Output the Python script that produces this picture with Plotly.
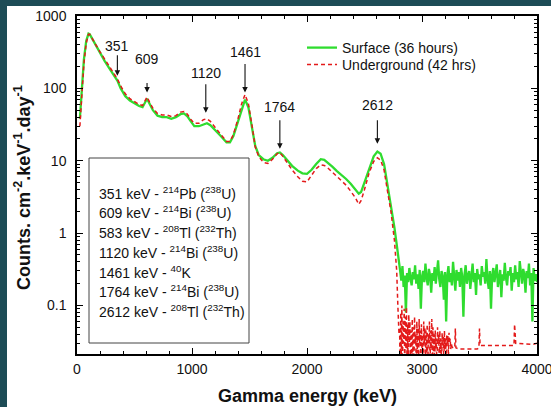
import math
import plotly.graph_objects as go

# ---------------- data ----------------
surface_energy = [25, 40, 60, 80, 100, 110, 130, 160, 200, 240, 280, 320, 351, 380, 420, 460, 500, 540, 570, 590,
                  609, 630, 660, 700, 740, 780, 820, 860, 900, 930, 960, 990, 1020, 1060, 1100, 1130, 1160, 1200,
                  1250, 1300, 1330, 1360, 1400, 1430, 1461, 1490, 1520, 1550, 1580, 1620, 1660, 1700, 1740, 1764,
                  1790, 1830, 1870, 1920, 1960, 2000, 2040, 2080, 2120, 2150, 2180, 2220, 2260, 2300, 2340, 2380,
                  2420, 2450, 2470, 2500, 2540, 2580, 2612, 2640, 2670, 2700, 2730, 2760, 2780, 2800,
                  2810, 2820, 2830, 2840, 2850, 2860, 2870, 2880, 2890, 2900,
                  2910, 2920, 2930, 2940, 2950, 2960, 2970, 2980, 2990, 3000,
                  3010, 3020, 3030, 3040, 3050, 3060, 3070, 3080, 3090, 3100,
                  3110, 3120, 3130, 3140, 3150, 3160, 3170, 3180, 3190, 3200,
                  3210, 3220, 3230, 3240, 3250, 3260, 3270, 3280, 3290, 3300,
                  3310, 3320, 3330, 3340, 3350, 3360, 3370, 3380, 3390, 3400,
                  3410, 3420, 3430, 3440, 3450, 3460, 3470, 3480, 3490, 3500,
                  3510, 3520, 3530, 3540, 3550, 3560, 3570, 3580, 3590, 3600,
                  3610, 3620, 3630, 3640, 3650, 3660, 3670, 3680, 3690, 3700,
                  3710, 3720, 3730, 3740, 3750, 3760, 3770, 3780, 3790, 3800,
                  3810, 3820, 3830, 3840, 3850, 3860, 3870, 3880, 3890, 3900,
                  3910, 3920, 3930, 3940, 3950, 3960, 3970, 3980, 3990, 4000]
surface_counts = [38, 90, 250, 450, 570, 560, 490, 400, 310, 240, 190, 150, 128, 100, 78, 68, 62, 57, 55, 65,
                  72, 62, 50, 42, 40, 40, 38, 40, 44, 45, 41, 35, 30, 30, 32, 33, 31, 27,
                  22, 18, 18, 22, 35, 52, 70, 55, 30, 16, 12, 10.5, 10, 11, 12.7, 13,
                  12, 10, 8.5, 7.3, 6.7, 6.6, 7.5, 9, 10.5, 10.3, 9.5, 8.3, 7.2, 6.4, 5.6, 4.8,
                  4.0, 3.5, 3.7, 5, 8, 11.5, 13.4, 12.5, 9, 4.5, 2.6, 1.2, 0.7, 0.35,
                  0.30, 0.22, 0.35, 0.18, 0.26, 0.08, 0.28, 0.21, 0.33, 0.24,
                  0.19, 0.29, 0.23, 0.36, 0.20, 0.27, 0.17, 0.31, 0.09, 0.25,
                  0.30, 0.21, 0.38, 0.24, 0.19, 0.32, 0.26, 0.15, 0.28, 0.22,
                  0.34, 0.20, 0.27, 0.42, 0.23, 0.18, 0.30, 0.25, 0.12, 0.29,
                  0.06, 0.26, 0.35, 0.21, 0.28, 0.19, 0.40, 0.24, 0.16, 0.31,
                  0.22, 0.29, 0.18, 0.33, 0.25, 0.07, 0.27, 0.36, 0.20, 0.26,
                  0.30, 0.17, 0.24, 0.38, 0.21, 0.28, 0.14, 0.32, 0.23, 0.27,
                  0.19, 0.35, 0.25, 0.29, 0.20, 0.44, 0.23, 0.17, 0.30, 0.09,
                  0.26, 0.33, 0.21, 0.28, 0.37, 0.18, 0.25, 0.31, 0.13, 0.27,
                  0.22, 0.39, 0.24, 0.19, 0.30, 0.26, 0.34, 0.16, 0.28, 0.21,
                  0.36, 0.23, 0.29, 0.18, 0.41, 0.25, 0.20, 0.32, 0.27, 0.15,
                  0.30, 0.24, 0.38, 0.19, 0.28, 0.06, 0.33, 0.22, 0.27, 0.21]

underground_energy = [25, 40, 60, 80, 100, 110, 130, 160, 200, 240, 280, 320, 351, 380, 420, 460, 500, 540, 570, 590,
                      609, 630, 660, 700, 740, 780, 820, 860, 900, 930, 960, 990, 1020, 1060, 1100, 1130, 1160, 1200,
                      1250, 1300, 1330, 1360, 1400, 1430, 1461, 1490, 1520, 1550, 1580, 1620, 1660, 1700, 1740, 1764,
                      1790, 1830, 1870, 1920, 1960, 2000, 2040, 2080, 2120, 2150, 2180, 2220, 2260, 2300, 2340, 2380,
                      2420, 2450, 2470, 2500, 2540, 2580, 2612, 2640, 2670, 2700, 2730, 2760, 2780, 2790, 2800,
                      2805, 2810, 2815, 2820, 2825, 2830, 2835, 2840, 2845, 2850,
                      2855, 2860, 2865, 2870, 2875, 2880, 2885, 2890, 2895, 2900,
                      2905, 2910, 2915, 2920, 2925, 2930, 2935, 2940, 2945, 2950,
                      2955, 2960, 2965, 2970, 2975, 2980, 2985, 2990, 2995, 3000,
                      3005, 3010, 3015, 3020, 3025, 3030, 3035, 3040, 3045, 3050,
                      3055, 3060, 3065, 3070, 3075, 3080, 3085, 3090, 3095, 3100,
                      3105, 3110, 3115, 3120, 3125, 3130, 3135, 3140, 3145, 3150,
                      3155, 3160, 3165, 3170, 3175, 3180, 3185, 3190, 3195, 3200,
                      3205, 3210, 3215, 3220, 3225, 3230, 3235, 3240, 3245, 3250, 3255, 3260,
                      3270, 3285, 3290, 3295, 3320, 3480, 3495, 3500, 3505, 3520,
                      3800, 3805, 3815, 3960, 4000]
underground_counts = [30, 70, 220, 420, 560, 560, 500, 410, 320, 255, 200, 160, 135, 108, 84, 72, 66, 60, 58, 68,
                      76, 65, 53, 45, 43, 43, 41, 42, 47, 48, 44, 37, 33, 33, 37, 38, 35, 29,
                      23, 18.5, 18.5, 23, 38, 60, 82, 62, 32, 15.5, 11.5, 9.5, 9.2, 10.5, 12.5, 13,
                      11.5, 9.2, 7.5, 6, 5.2, 5.1, 6.2, 7.8, 8.8, 8.6, 8, 7, 6.1, 5.4, 4.6, 3.8,
                      3.1, 2.5, 2.8, 4, 6.8, 9.8, 11, 10.2, 7.5, 3.8, 2, 0.8, 0.3, 0.1, 0.04,
                      0.05, 0.012, 0.08, 0.02, 0.10, 0.013, 0.06, 0.03, 0.09, 0.012,
                      0.07, 0.025, 0.095, 0.014, 0.055, 0.012, 0.075, 0.03, 0.06, 0.013,
                      0.045, 0.012, 0.065, 0.02, 0.05, 0.013, 0.07, 0.03, 0.04, 0.012,
                      0.06, 0.022, 0.05, 0.013, 0.065, 0.03, 0.045, 0.012, 0.055, 0.025,
                      0.04, 0.012, 0.06, 0.03, 0.05, 0.013, 0.045, 0.022, 0.055, 0.012,
                      0.04, 0.03, 0.06, 0.014, 0.045, 0.025, 0.065, 0.012, 0.05, 0.02,
                      0.04, 0.013, 0.045, 0.025, 0.035, 0.012, 0.05, 0.03, 0.04, 0.014,
                      0.045, 0.022, 0.035, 0.012, 0.042, 0.028, 0.038, 0.015, 0.045, 0.025,
                      0.035, 0.016, 0.04, 0.03, 0.038, 0.02, 0.042, 0.03, 0.035, 0.025, 0.03, 0.027,
                      0.026, 0.026, 0.048, 0.026, 0.025, 0.025, 0.026, 0.048, 0.028, 0.028,
                      0.028, 0.055, 0.03, 0.029, 0.03]

peak_energies = [351, 609, 1120, 1461, 1764, 2612]
peak_labels = ["351", "609", "1120", "1461", "1764", "2612"]
peak_arrow_tip = [150, 88, 46, 88, 14.7, 17.2]        # counts at arrow tip
peak_label_offset = [-30, -33, -40, -40, -42, -39]     # label offset above tip (px)
peak_start_standoff = [0, 14, 2, 2, 4, 6]

box_lines = [
    "351 keV - <sup>214</sup>Pb (<sup>238</sup>U)",
    "609 keV - <sup>214</sup>Bi (<sup>238</sup>U)",
    "583 keV - <sup>208</sup>Tl (<sup>232</sup>Th)",
    "1120 keV - <sup>214</sup>Bi (<sup>238</sup>U)",
    "1461 keV - <sup>40</sup>K",
    "1764 keV - <sup>214</sup>Bi (<sup>238</sup>U)",
    "2612 keV - <sup>208</sup>Tl (<sup>232</sup>Th)",
]

y_tick_vals = [0.1, 1, 10, 100, 1000]
y_tick_text = ["0.1", "1", "10", "100", "1000"]
x_tick_vals = [0, 1000, 2000, 3000, 4000]

# ---------------- figure ----------------
FONT = "Liberation Sans, Arial, sans-serif"
W, H = 551, 407
L, R, T, B = 77, 14, 16, 53
PW, PH = W - L - R, H - T - B


def px_x(p):
    return (p - L) / PW


def px_y(p):
    return (H - B - p) / PH


fig = go.Figure()
fig.add_trace(go.Scatter(x=surface_energy, y=surface_counts, mode="lines",
                         name="Surface (36 hours)", legend="legend",
                         line=dict(color="#2fdc2f", width=2.3)))
fig.add_trace(go.Scatter(x=underground_energy, y=underground_counts, mode="lines",
                         name="Underground (42 hrs)", legend="legend2",
                         line=dict(color="#e31a1a", width=1.5, dash="4px,3px")))

annotations = []
for e, lab, tip, off, sso in zip(peak_energies, peak_labels, peak_arrow_tip, peak_label_offset, peak_start_standoff):
    annotations.append(dict(x=e, y=math.log10(tip), xref="x", yref="y", text=lab,
                            showarrow=True, arrowhead=2, arrowsize=1, arrowwidth=1.1,
                            arrowcolor="#111111", ax=0, ay=off, startstandoff=sso,
                            font=dict(family=FONT, size=14, color="#111111")))

line_y0 = 192.7
for i, t in enumerate(box_lines):
    annotations.append(dict(x=px_x(97), y=px_y(line_y0 + i * 19.7), xref="paper", yref="paper",
                            text=t, showarrow=False, xanchor="left", yanchor="middle",
                            font=dict(family=FONT, size=14, color="#111111")))

annotations.append(dict(x=0.5, y=px_y(396), xref="paper", yref="paper",
                        text="<b>Gamma energy (keV)</b>", showarrow=False,
                        xanchor="center", yanchor="middle",
                        font=dict(family=FONT, size=18, color="#111111")))
annotations.append(dict(x=px_x(23), y=px_y(188), xref="paper", yref="paper",
                        text="<b>Counts. cm<sup>-2</sup>.keV<sup>-1</sup>.day<sup>-1</sup></b>",
                        showarrow=False, textangle=-90, xanchor="center", yanchor="middle",
                        font=dict(family=FONT, size=18, color="#111111")))

shapes = [
    dict(type="rect", xref="paper", yref="paper", x0=px_x(7), x1=px_x(W + 2), y0=px_y(H + 2), y1=px_y(6),
         fillcolor="white", line=dict(width=0), layer="below"),
    dict(type="rect", xref="paper", yref="paper", x0=px_x(89), x1=px_x(249), y0=px_y(343), y1=px_y(158),
         fillcolor="white", line=dict(color="#444444", width=1), layer="above"),
]

axis_common = dict(showline=True, linecolor="black", linewidth=1.5, mirror="allticks",
                   ticks="inside", ticklen=6, tickwidth=1.2, tickcolor="black",
                   showgrid=False, zeroline=False, automargin=False,
                   tickfont=dict(family=FONT, size=14, color="#111111"))

fig.update_xaxes(range=[0, 4000], tickvals=x_tick_vals, ticklabeloverflow="allow",
                 minor=dict(ticks="inside", ticklen=3, tickwidth=1, tickcolor="black", dtick=200, showgrid=False),
                 ticklabelstandoff=1, **axis_common)
fig.update_yaxes(type="log", range=[-1.67, 3], tickvals=y_tick_vals, ticktext=y_tick_text,
                 minor=dict(ticks="inside", ticklen=3, tickwidth=1, tickcolor="black", dtick="D1", showgrid=False),
                 ticklabelstandoff=6, **axis_common)

legend_common = dict(xanchor="left", yanchor="top", bgcolor="rgba(0,0,0,0)", borderwidth=0,
                     font=dict(family=FONT, size=14, color="#111111"), itemwidth=30)

fig.update_layout(
    width=W, height=H, autosize=False,
    margin=dict(l=L, r=R, t=T, b=B, pad=0, autoexpand=False),
    paper_bgcolor="#1d4c56", plot_bgcolor="white",
    font=dict(family=FONT, size=14, color="#111111"),
    showlegend=True,
    legend=dict(x=px_x(302), y=px_y(32), **legend_common),
    legend2=dict(x=px_x(302), y=px_y(49), **legend_common),
    annotations=annotations, shapes=shapes,
)

fig.write_html("out.html")
